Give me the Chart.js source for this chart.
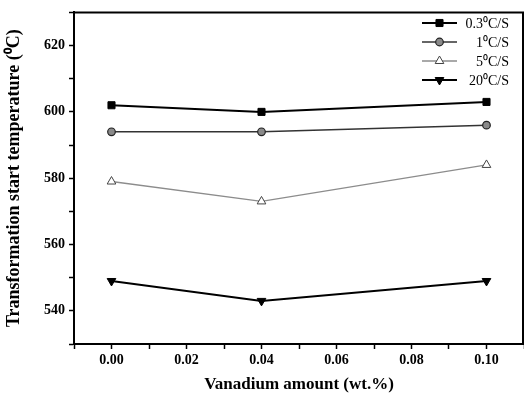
<!DOCTYPE html>
<html>
<head>
<meta charset="utf-8">
<script src="https://cdn.jsdelivr.net/npm/chart.js@4/dist/chart.umd.min.js"></script>
<style>
  html, body { margin: 0; padding: 0; background: #fff; }
  #wrap { width: 524px; height: 399px; }
</style>
</head>
<body>
<div id="wrap"><canvas id="c"></canvas></div>
<script>
// vanadium content (wt.%)
var vanadium = [0.00, 0.04, 0.10];
// transformation start temperature per cooling rate
var rate03 = [602, 600, 603];
var rate1 = [594, 594, 596];
var rate5 = [579, 573, 584];
var rate20 = [549, 543, 549];
var seriesNames = ["0.3\u2070C/S", "1\u2070C/S", "5\u2070C/S", "20\u2070C/S"];

function pts(ys) {
  return vanadium.map(function (x, i) { return { x: x, y: ys[i] }; });
}

var serif = "'Liberation Serif', 'Times New Roman', serif";

// box around the plot (top + right)
var frame = {
  id: 'frame',
  afterDraw: function (chart) {
    var a = chart.chartArea, c = chart.ctx;
    c.save();
    c.strokeStyle = '#000';
    c.lineWidth = 2;
    c.beginPath();
    c.moveTo(a.left, a.top);
    c.lineTo(a.right - 1, a.top);
    c.lineTo(a.right - 1, a.bottom);
    c.stroke();
    c.restore();
  }
};

// legend with line + marker samples, like the original
var lineLegend = {
  id: 'lineLegend',
  afterDraw: function (chart) {
    var c = chart.ctx;
    c.save();
    chart.data.datasets.forEach(function (ds, i) {
      var y = 23 + i * 19;
      c.strokeStyle = ds.borderColor;
      c.lineWidth = ds.borderWidth;
      c.beginPath();
      c.moveTo(422, y);
      c.lineTo(457, y);
      c.stroke();
      c.fillStyle = ds.pointBackgroundColor;
      c.strokeStyle = ds.pointBorderColor;
      c.lineWidth = ds.pointBorderWidth;
      Chart.helpers.drawPoint(c, {
        pointStyle: ds.pointStyle,
        radius: ds.pointRadius,
        rotation: ds.pointRotation || 0,
        borderWidth: ds.pointBorderWidth
      }, 439.5, y);
      c.fillStyle = '#000';
      c.font = '14px ' + serif;
      c.textAlign = 'right';
      c.textBaseline = 'middle';
      c.fillText(ds.label, 509, y + 1);
    });
    c.restore();
  }
};

new Chart(document.getElementById('c'), {
  type: 'scatter',
  data: {
    datasets: [
      {
        label: seriesNames[0],
        data: pts(rate03),
        showLine: true,
        borderColor: '#000',
        borderWidth: 2,
        pointStyle: 'rect',
        pointRadius: 5,
        pointBackgroundColor: '#000',
        pointBorderColor: '#000',
        pointBorderWidth: 1
      },
      {
        label: seriesNames[1],
        data: pts(rate1),
        showLine: true,
        borderColor: '#333',
        borderWidth: 1.5,
        pointStyle: 'circle',
        pointRadius: 3.8,
        pointBackgroundColor: '#8a8a8a',
        pointBorderColor: '#222',
        pointBorderWidth: 1.2
      },
      {
        label: seriesNames[2],
        data: pts(rate5),
        showLine: true,
        borderColor: '#8c8c8c',
        borderWidth: 1.3,
        pointStyle: 'triangle',
        pointRadius: 5,
        pointBackgroundColor: '#fff',
        pointBorderColor: '#444',
        pointBorderWidth: 1
      },
      {
        label: seriesNames[3],
        data: pts(rate20),
        showLine: true,
        borderColor: '#000',
        borderWidth: 2,
        pointStyle: 'triangle',
        pointRotation: 180,
        pointRadius: 5,
        pointBackgroundColor: '#000',
        pointBorderColor: '#000',
        pointBorderWidth: 1
      }
    ]
  },
  options: {
    responsive: true,
    maintainAspectRatio: false,
    animation: false,
    layout: { autoPadding: false, padding: { top: 10, right: 0, left: 0, bottom: 0 } },
    plugins: {
      legend: { display: false },
      tooltip: { enabled: false }
    },
    scales: {
      x: {
        type: 'linear',
        min: -0.01,
        max: 0.11,
        afterBuildTicks: function (s) {
          var t = [];
          for (var k = -1; k <= 11; k++) t.push({ value: k / 100 });
          s.ticks = t;
        },
        afterFit: function (s) { s.height = 55; s.paddingRight = 0; s.paddingLeft = 0; },
        border: { display: true, color: '#000', width: 2 },
        grid: { drawOnChartArea: false, drawTicks: true, tickLength: 5, tickWidth: 1.5, tickColor: '#000' },
        ticks: {
          color: '#000',
          padding: 3,
          maxRotation: 0,
          autoSkip: false,
          font: { family: serif, size: 14, weight: 'bold' },
          callback: function (v) {
            var k = Math.round(v * 100);
            if (k < 0 || k > 10 || k % 2 !== 0) return '';
            return (k / 100).toFixed(2);
          }
        },
        title: {
          display: true,
          text: 'Vanadium amount (wt.%)',
          color: '#000',
          padding: { top: 5 },
          font: { family: serif, size: 17, weight: 'bold' }
        }
      },
      y: {
        min: 530,
        max: 630,
        afterFit: function (s) { s.width = 74; },
        border: { display: true, color: '#000', width: 2 },
        grid: { drawOnChartArea: false, drawTicks: true, tickLength: 5, tickWidth: 1.5, tickColor: '#000' },
        ticks: {
          stepSize: 10,
          color: '#000',
          padding: 4,
          font: { family: serif, size: 14, weight: 'bold' },
          callback: function (v) {
            if (v < 540 || v > 620 || v % 20 !== 0) return '';
            return v;
          }
        },
        title: {
          display: true,
          text: 'Transformation start temperature (\u2070C)',
          color: '#000',
          padding: { bottom: 1 },
          font: { family: serif, size: 18, weight: 'bold' }
        }
      }
    }
  },
  plugins: [frame, lineLegend]
});
</script>
</body>
</html>
